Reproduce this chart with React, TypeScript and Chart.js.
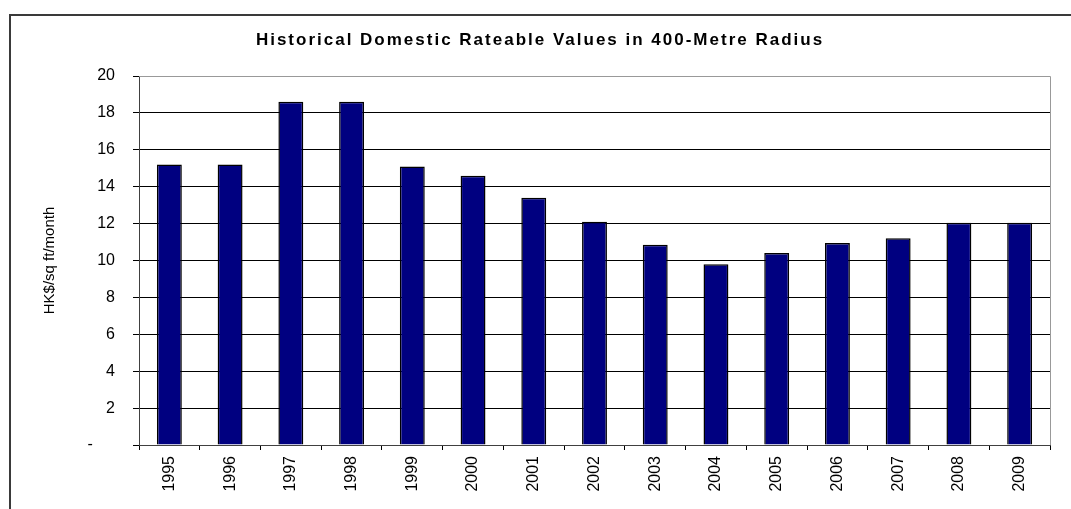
import React, { useEffect, useRef } from "react";
import { Chart, registerables } from "chart.js";

Chart.register(...registerables);

// Historical domestic rateable values (HK$ per sq ft per month)
const years = [
  "1995", "1996", "1997", "1998", "1999", "2000", "2001", "2002",
  "2003", "2004", "2005", "2006", "2007", "2008", "2009",
];
const rateableValues = [
  15.2, 15.2, 18.6, 18.6, 15.1, 14.6, 13.4, 12.1,
  10.85, 9.8, 10.4, 10.95, 11.2, 12.05, 12.05,
];
const yTicks = [0, 2, 4, 6, 8, 10, 12, 14, 16, 18, 20];

const chartTitle = "Historical Domestic Rateable Values in 400-Metre Radius";
const yAxisTitle = "HK$/sq ft/month";

const FONT = '"Liberation Sans", Arial, Helvetica, sans-serif';
const WIDTH = 1071;
const HEIGHT = 509;

// Title drawn with slightly widened letter spacing
const titlePlugin = {
  id: "spacedTitle",
  afterDraw(chart: any) {
    const { ctx } = chart;
    ctx.save();
    ctx.font = `bold 17px ${FONT}`;
    (ctx as any).letterSpacing = "2px";
    ctx.fillStyle = "#000";
    ctx.textAlign = "center";
    ctx.textBaseline = "middle";
    ctx.fillText(chartTitle, 540, 40);
    ctx.restore();
  },
};

// Grey frame on the top and right edges of the plot area
const framePlugin = {
  id: "plotFrame",
  afterDatasetsDraw(chart: any) {
    const { ctx, chartArea } = chart;
    ctx.save();
    ctx.strokeStyle = "#999999";
    ctx.lineWidth = 1;
    ctx.beginPath();
    ctx.moveTo(chartArea.left, chartArea.top + 0.5);
    ctx.lineTo(chartArea.right + 0.5, chartArea.top + 0.5);
    ctx.lineTo(chartArea.right + 0.5, chartArea.bottom);
    ctx.stroke();
    ctx.restore();
  },
};

export default function App() {
  const canvasRef = useRef<HTMLCanvasElement | null>(null);

  useEffect(() => {
    const canvas = canvasRef.current;
    if (!canvas) return;
    const chart = new Chart(canvas, {
      type: "bar",
      data: {
        labels: years,
        datasets: [
          {
            data: rateableValues,
            backgroundColor: "#000080",
            borderColor: "#000000",
            borderWidth: 1.5,
            barPercentage: 0.41,
            categoryPercentage: 1,
          },
        ],
      },
      options: {
        responsive: false,
        animation: false,
        devicePixelRatio: 1,
        layout: { padding: { left: 0, right: 21, top: 76, bottom: 0 } },
        plugins: {
          legend: { display: false },
          title: { display: false },
          tooltip: { enabled: false },
        },
        scales: {
          x: {
            offset: true,
            grid: {
              offset: true,
              drawOnChartArea: false,
              drawTicks: true,
              tickLength: 5,
              tickColor: "#000",
            },
            border: { color: "#404040", width: 1 },
            ticks: {
              autoSkip: false,
              minRotation: 90,
              maxRotation: 90,
              padding: 6,
              color: "#000",
              font: { family: FONT, size: 16 },
            },
            afterFit(scale: any) {
              scale.height = 64;
            },
          },
          y: {
            min: 0,
            max: 20,
            afterBuildTicks(scale: any) {
              scale.ticks = yTicks.map((v) => ({ value: v }));
            },
            grid: {
              color: (ctx: any) => (ctx.tick && ctx.tick.value === 20 ? "#999999" : "#000000"),
              tickColor: "#000",
              tickLength: 6,
              lineWidth: 1,
            },
            border: { color: "#404040", width: 1 },
            ticks: {
              padding: 18,
              color: "#000",
              font: { family: FONT, size: 16 },
              callback: (v: any) => (Number(v) === 0 ? "-     " : String(v)),
            },
            title: {
              display: true,
              text: yAxisTitle,
              color: "#000",
              font: { family: FONT, size: 15 },
              padding: { top: 41, bottom: 0 },
            },
            afterFit(scale: any) {
              scale.width = 139;
            },
          },
        },
      },
      plugins: [titlePlugin, framePlugin],
    });
    return () => chart.destroy();
  }, []);

  return (
    <div
      style={{
        position: "absolute",
        left: 0,
        top: 0,
        width: WIDTH,
        height: HEIGHT,
        overflow: "hidden",
        background: "#fff",
      }}
    >
      <canvas
        ref={canvasRef}
        width={WIDTH}
        height={HEIGHT}
        style={{ position: "absolute", left: 0, top: 0, width: WIDTH, height: HEIGHT }}
      />
      <div
        style={{
          position: "absolute",
          left: 9,
          top: 14,
          width: WIDTH + 20,
          height: HEIGHT + 20,
          borderLeft: "2px solid #3a3a3a",
          borderTop: "2px solid #3a3a3a",
          pointerEvents: "none",
        }}
      />
    </div>
  );
}
